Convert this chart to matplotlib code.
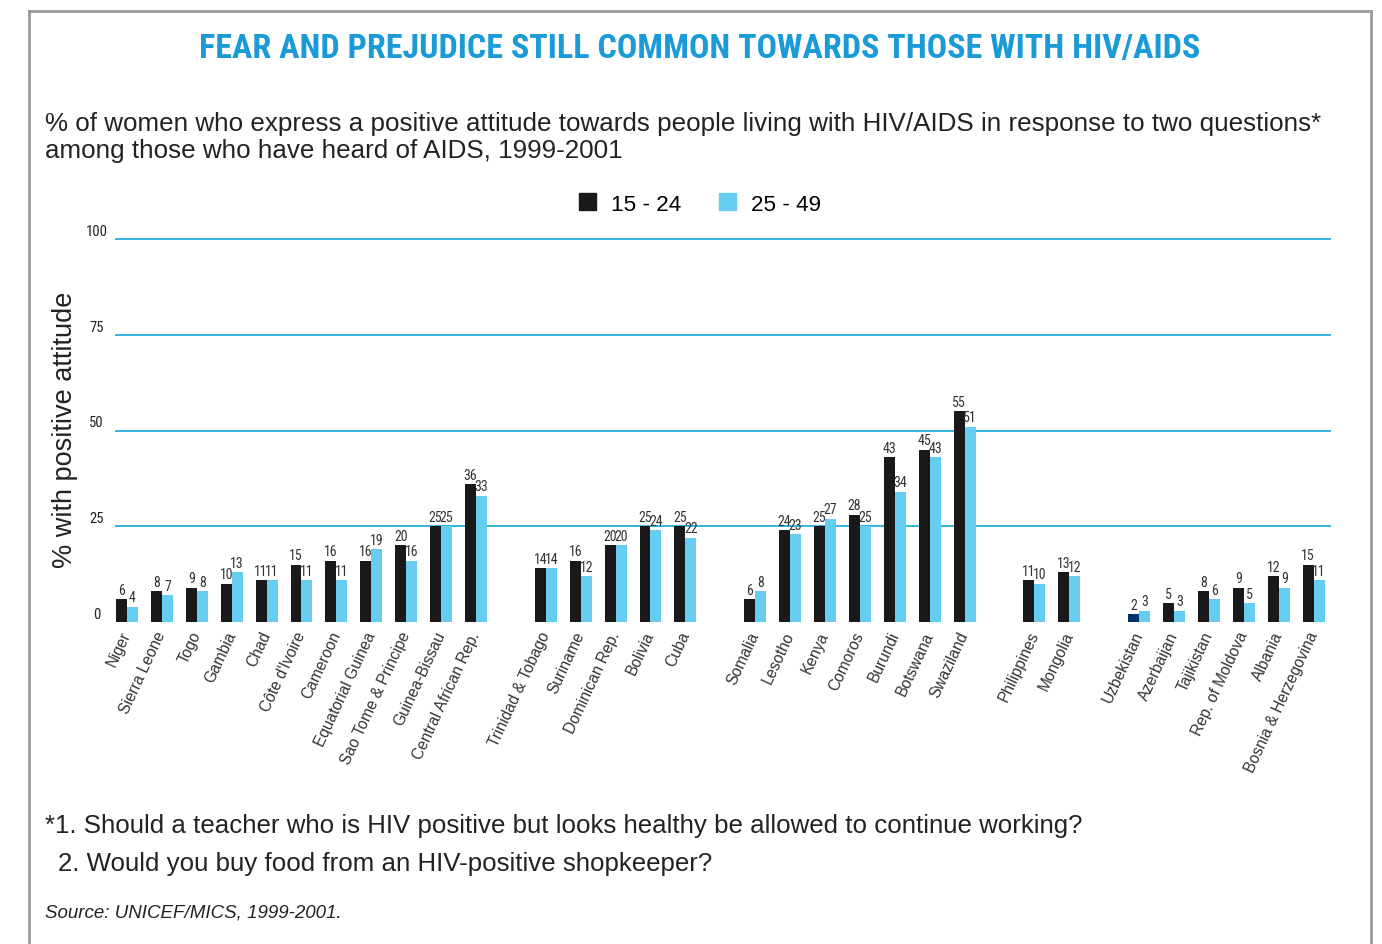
import matplotlib
matplotlib.use("Agg")
import matplotlib.pyplot as plt
from matplotlib import font_manager as fm
from matplotlib.patches import Rectangle
from matplotlib.lines import Line2D
import numpy as np

# ---------------- data ----------------
africa_w = ["Niger", "Sierra Leone", "Togo", "Gambia", "Chad", "Côte d'Ivoire",
            "Cameroon", "Equatorial Guinea", "Sao Tome & Principe", "Guinea-Bissau",
            "Central African Rep."]
africa_w_1524 = [6, 8, 9, 10, 11, 15, 16, 16, 20, 25, 36]
africa_w_2549 = [4, 7, 8, 13, 11, 11, 11, 19, 16, 25, 33]

latam = ["Trinidad & Tobago", "Suriname", "Dominican Rep.", "Bolivia", "Cuba"]
latam_1524 = [14, 16, 20, 25, 25]
latam_2549 = [14, 12, 20, 24, 22]

africa_e = ["Somalia", "Lesotho", "Kenya", "Comoros", "Burundi", "Botswana", "Swaziland"]
africa_e_1524 = [6, 24, 25, 28, 43, 45, 55]
africa_e_2549 = [8, 23, 27, 25, 34, 43, 51]

asia = ["Philippines", "Mongolia"]
asia_1524 = [11, 13]
asia_2549 = [10, 12]

europe = ["Uzbekistan", "Azerbaijan", "Tajikistan", "Rep. of Moldova", "Albania",
          "Bosnia & Herzegovina"]
europe_1524 = [2, 5, 8, 9, 12, 15]
europe_2549 = [3, 3, 6, 5, 9, 11]

groups = [
    (africa_w, africa_w_1524, africa_w_2549),
    (latam, latam_1524, latam_2549),
    (africa_e, africa_e_1524, africa_e_2549),
    (asia, asia_1524, asia_2549),
    (europe, europe_1524, europe_2549),
]
series_names = ["15 - 24", "25 - 49"]
yticks = [0, 25, 50, 75, 100]

# ---------------- fonts ----------------
CANDS = ["Liberation Sans Narrow", "Roboto Condensed", "Open Sans Condensed",
         "Noto Sans Condensed", "DejaVu Sans Condensed", "Arial Narrow",
         "Nimbus Sans Narrow", "Noto Sans Display Condensed"]


def _is_cond(f):
    st = f.stretch
    if isinstance(st, str):
        return "condensed" in st or "narrow" in st
    try:
        return int(st) < 500
    except Exception:
        return False


def _wnum(w):
    if isinstance(w, (int, float)):
        return w
    return {"bold": 700, "semibold": 600, "demibold": 600, "heavy": 800,
            "black": 900, "extra bold": 800, "normal": 400, "regular": 400,
            "book": 400, "medium": 500, "light": 300}.get(str(w).lower(), 400)


def find_condensed(bold=False):
    fl = fm.fontManager.ttflist
    def ok(f):
        w = _wnum(f.weight)
        if f.style != "normal":
            return False
        return (w >= 650) if bold else (350 <= w <= 450)
    for name in CANDS:
        for f in fl:
            if f.name == name and ok(f):
                return f.fname
    for f in fl:
        if _is_cond(f) and ok(f) and "CJK" not in f.name:
            return f.fname
    return None


cond_reg = find_condensed(False)
cond_bold = find_condensed(True)


def CF(size):
    if cond_reg:
        return fm.FontProperties(fname=cond_reg, size=size)
    return fm.FontProperties(family="Roboto", size=size * 0.9)


def CFB(size):
    if cond_bold:
        return fm.FontProperties(fname=cond_bold, size=size)
    return fm.FontProperties(family="Roboto", weight="bold", size=size * 0.88)


regular = "Liberation Sans"

BLACK = "#19191b"
BLUE = "#66ccf0"
NAVY = "#00336b"
GRID = "#1fb0d8"
TITLE = "#1a9ad6"
TXT = "#222222"

# ---------------- layout ----------------
W, H = 1382, 945
fig = plt.figure(figsize=(W / 100, H / 100), dpi=100)
ax_l, ax_r, ax_t, ax_b = 116, 1330, 240, 623
ax = fig.add_axes([ax_l / W, 1 - ax_b / H, (ax_r - ax_l) / W, (ax_b - ax_t) / H])

# slot positions (one empty slot between regional groups)
names, v1, v2, pos = [], [], [], []
slot = 0
for n, a, b in groups:
    for i in range(len(n)):
        names.append(n[i]); v1.append(a[i]); v2.append(b[i]); pos.append(slot)
        slot += 1
    slot += 1
pos = np.array(pos, dtype=float)

bw = 0.315
colors1 = [NAVY if n == "Uzbekistan" else BLACK for n in names]
ax.bar(pos - bw / 2, v1, width=bw, color=colors1, zorder=3)
ax.bar(pos + bw / 2, v2, width=bw, color=BLUE, zorder=3)

for x, a, b in zip(pos, v1, v2):
    ax.text(x - bw / 2, a + 0.6, str(a), ha="center", va="bottom",
            fontproperties=CF(10), color="#333333")
    ax.text(x + bw / 2, b + 0.6, str(b), ha="center", va="bottom",
            fontproperties=CF(10), color="#333333")

ax.set_xlim(-0.315, 34.47)
ax.set_ylim(0, 100)
for v in yticks[1:]:
    ax.axhline(v, color=GRID, lw=1.3, zorder=1, clip_on=False)
for s in ax.spines.values():
    s.set_visible(False)
ax.set_yticks([])
ax.set_xticks(pos)
ax.set_xticklabels(names, rotation=65, ha="right", va="center", rotation_mode="anchor",
                   family=regular, fontsize=11.2, color="#333333")
ax.tick_params(axis="x", length=0, pad=7)

for v in yticks:
    ax.text(-0.016, v + 0.3, str(v), transform=ax.get_yaxis_transform(),
            ha="center", va="bottom", fontproperties=CF(10.5), color=TXT)

fig.text(65 / W, 1 - 430 / H, "% with positive attitude", rotation=90,
         ha="center", va="center", fontsize=19.5, family=regular, color=TXT)

# title / subtitle
fig.text(700 / W, 1 - 49 / H,
         "FEAR AND PREJUDICE STILL COMMON TOWARDS THOSE WITH HIV/AIDS",
         ha="center", va="center", fontproperties=CFB(24.5), color=TITLE)
fig.text(45 / W, 1 - 124 / H,
         "% of women who express a positive attitude towards people living with HIV/AIDS in response to two questions*",
         ha="left", va="center", fontsize=18.75, family=regular, color=TXT)
fig.text(45 / W, 1 - 151 / H, "among those who have heard of AIDS, 1999-2001",
         ha="left", va="center", fontsize=18.75, family=regular, color=TXT)

# legend
handles = [Rectangle((0, 0), 1, 1, color=BLACK), Rectangle((0, 0), 1, 1, color=BLUE)]
fig.legend(handles, series_names, loc="center", bbox_to_anchor=(700 / W, 1 - 205 / H),
           ncol=2, frameon=False, prop={"family": regular, "size": 16.2},
           handlelength=0.75, handleheight=0.75, columnspacing=1.65, handletextpad=0.67)

# footnotes
fig.text(45 / W, 1 - 826 / H,
         "*1. Should a teacher who is HIV positive but looks healthy be allowed to continue working?",
         ha="left", va="center", fontsize=18.6, family=regular, color=TXT)
fig.text(58 / W, 1 - 864 / H, "2. Would you buy food from an HIV-positive shopkeeper?",
         ha="left", va="center", fontsize=18.6, family=regular, color=TXT)
fig.text(45 / W, 1 - 913 / H, "Source: UNICEF/MICS, 1999-2001.", ha="left", va="center",
         fontsize=13.5, style="italic", family=regular, color=TXT)

# frame
fc = "#9a9a9a"
for xs, ys in [([29, 29], [945, 12]), ([1371, 1371], [945, 12]), ([29, 1371], [12, 12])]:
    fig.add_artist(Line2D([x / W for x in xs], [1 - y / H for y in ys],
                          transform=fig.transFigure, color=fc, lw=2))

fig.savefig("out.png", dpi=100)
